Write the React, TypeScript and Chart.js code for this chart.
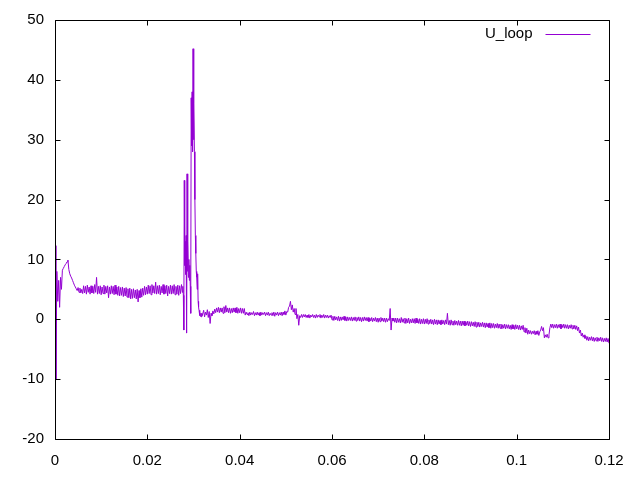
import React, { useEffect, useRef } from "react";
import { Chart, registerables } from "chart.js";

Chart.register(...registerables);

const SERIES_LABEL = "U_loop";
const X_MIN = 0;
const X_MAX = 0.12;
const X_STEP = 0.02;
const Y_MIN = -20;
const Y_MAX = 50;
const Y_STEP = 10;

// Segment 1: start-up transient (t from 0, every 0.0002 s)
const seg1Start = 0;
const seg1Step = 0.0002;
const seg1Values = [
  12.3, -10, 8, 3, 6.5, 2, 7, 5, 8.2, 8.5, 8.8, 9.1, 9.3, 9.6, 9.9, 8.3, 7.6, 7.2, 6.9, 6.5,
  6.1, 5.7, 5.4, 5.1, 4.8, 5.3, 4.5, 5.2, 4.4, 5.0,
];

// Segment 2: noisy plateau, low/high of each 0.0004 s bin (t from 0.006)
const seg2Start = 0.006;
const seg2Step = 0.0004;
const seg2Lo = [
  4.3, 4.4, 4.2, 4.5, 4.2, 4.4, 4.3, 4.5, 4.2, 4.3, 4.1, 4.3, 4.2, 4.4, 3.6, 4.2, 4.3, 4.1, 4.2, 4.0,
  3.9, 4.0, 3.8, 3.9, 3.7, 3.6, 3.4, 3.5, 3.6, 3.4, 2.9, 3.6, 3.7, 4.0, 4.1, 4.2, 4.3, 4.1, 4.4, 4.3,
  4.2, 4.3, 4.1, 4.4, 4.2, 4.3, 3.9, 4.3, 4.2, 4.3, 4.1, 4.2, 4.0, 4.3,
];
const seg2Hi = [
  5.6, 5.5, 5.7, 5.4, 5.6, 5.5, 5.8, 7.0, 5.5, 5.6, 5.4, 5.7, 5.5, 5.6, 5.4, 5.6, 5.5, 5.7, 5.4, 5.5,
  5.3, 5.4, 5.2, 5.3, 5.1, 5.2, 5.0, 5.1, 4.9, 5.0, 4.8, 5.1, 5.2, 5.5, 5.4, 5.7, 5.6, 5.8, 5.6, 6.2,
  5.6, 5.7, 5.5, 5.8, 5.6, 5.7, 5.5, 5.7, 5.6, 5.8, 5.5, 5.7, 5.6, 5.8,
];

// Segment 3: spike (t from 0.0276, every 0.0001 s)
const seg3Start = 0.0276;
const seg3Step = 0.0001;
const seg3Values = [
  4.5, 5.5, 4, -1.8, 23.2, 9, 13, 7.5, 14, -2.3, 24.3, 8, 13, 7, 10, 6.5, 9, 5.5, 1, 37,
  29, 38, 28, 45.2, 30, 36, 28, 20, 14, 11, 8, 7, 5, 7.6, 3, 2, 1.5, 0.6, 1.2, 0.5,
  1, 0.4, 1, 0.6,
];

// Segment 4: slow decay, low/high of each 0.0004 s bin (t from 0.032)
const seg4Start = 0.032;
const seg4Step = 0.0004;
const seg4Lo = [
  0.6, 0.4, 0.7, 0.3, -0.7, 0.6, 0.9,
  1.1, 1.2, 1.1, 1.2, 1.0, 1.1, 1.2, 1.1, 1.0, 1.1, 1.2, 1.1, 1.0, 1.1, 1.0, 1.0,
  0.7, 0.8, 0.6, 0.7, 0.8, 0.6, 0.7, 0.7, 0.6, 0.7, 0.8, 0.6, 0.7, 0.6, 0.7, 0.6, 0.5, 0.7, 0.6, 0.7, 0.6, 0.8, 0.7,
  1.2, 2.2, 1.6, 1.2, 0.8, 0.1, -1.0, 0.3,
  0.3, 0.4, 0.3, 0.3, 0.2, 0.4, 0.3, 0.2, 0.3, 0.4, 0.2, 0.3, 0.2, 0.3, 0.2, 0.3,
  -0.1, -0.2, -0.1, -0.2, -0.3, -0.2, -0.1, -0.2, -0.3, -0.2, -0.2, -0.3, -0.2, -0.3, -0.2, -0.3, -0.4, -0.3, -0.2, -0.3,
  -0.4, -0.3, -0.4, -0.3, -0.4, -0.5, -0.4, -0.3, -0.4, -0.5, -0.4,
  -0.2, -1.8, -0.3,
  -0.5, -0.6, -0.5, -0.6, -0.5, -0.6, -0.7, -0.6, -0.7, -0.6, -0.6, -0.7, -0.6, -0.7, -0.8, -0.7, -0.8, -0.7, -0.8, -0.7,
  -0.8, -0.9, -0.8, -0.9, -0.8, -0.9, -0.8, -0.9, -0.8, -0.9, -1.0, -0.9, -1.0, -0.9, -1.0, -1.0, -1.1,
  -1.0, -1.1, -1.0, -1.1, -1.2, -1.1, -1.2, -1.3, -1.2, -1.3, -1.2, -1.3, -1.4, -1.3, -1.4, -1.5, -1.4, -1.5, -1.4, -1.5,
  -1.5, -1.6, -1.5, -1.6, -1.5, -1.6, -1.7, -1.6, -1.7, -1.6, -1.7, -1.8, -1.7, -2.1, -2.3, -2.5,
  -2.4, -2.5, -2.4, -2.6, -2.5, -2.7, -1.8, -1.9, -3.1, -3.0, -3.1, -1.4,
  -1.4, -1.5, -1.4, -1.5, -1.4, -1.6, -1.4, -1.5, -1.5, -1.6, -1.5, -1.6, -1.6, -1.7, -1.9,
  -2.3, -2.8, -3.0, -3.2,
  -3.5, -3.6, -3.5, -3.6, -3.7, -3.6, -3.7, -3.6, -3.7, -3.8, -3.7, -3.8, -4.0,
];
const seg4Hi = [
  1.5, 1.2, 1.6, 1.3, 1.0, 1.4, 1.7,
  1.9, 2.0, 1.9, 1.9, 2.1, 2.3, 1.9, 1.9, 1.8, 1.9, 1.9, 2.0, 1.8, 1.9, 1.8, 1.8,
  1.2, 1.1, 1.2, 1.1, 1.3, 1.1, 1.2, 1.1, 1.2, 1.1, 1.2, 1.1, 1.2, 1.0, 1.1, 1.2, 1.1, 1.2, 1.1, 1.2, 1.2, 1.4, 1.3,
  2.0, 3.0, 2.4, 1.8, 1.8, 0.8, 0.6, 0.8,
  0.8, 0.8, 0.7, 0.8, 0.7, 0.8, 0.7, 0.8, 0.7, 0.8, 0.7, 0.8, 0.7, 0.7, 0.6, 0.7,
  0.5, 0.5, 0.4, 0.5, 0.4, 0.4, 0.5, 0.4, 0.4, 0.3, 0.4, 0.3, 0.4, 0.3, 0.4, 0.3, 0.3, 0.4, 0.3, 0.3,
  0.2, 0.3, 0.2, 0.3, 0.2, 0.2, 0.3, 0.2, 0.2, 0.2, 0.1,
  1.8, 0.2, 0.2,
  0.2, 0.2, 0.1, 0.3, 0.1, 0.2, 0.1, 0.2, 0.0, 0.1, 0.1, 0.2, 0.0, 0.1, 0.0, 0.1, 0.0, 0.1, -0.1, 0.0,
  -0.1, 0.0, -0.1, -0.1, -0.2, -0.1, -0.2, -0.1, 1.0, -0.2, -0.1, -0.3, -0.2, -0.3, -0.2, -0.3, -0.3,
  -0.3, -0.4, -0.3, -0.4, -0.4, -0.5, -0.4, -0.5, -0.5, -0.6, -0.5, -0.6, -0.6, -0.7, -0.6, -0.7, -0.7, -0.8, -0.7, -0.8,
  -0.8, -0.9, -0.8, -0.9, -0.9, -1.0, -0.9, -1.0, -0.9, -1.0, -1.0, -1.1, -1.0, -1.4, -1.5, -1.8,
  -1.9, -2.0, -1.9, -2.0, -1.9, -2.1, -1.2, -1.4, -2.6, -2.5, -2.6, -0.8,
  -0.8, -0.9, -0.8, -0.9, -0.8, -0.9, -0.8, -0.9, -0.9, -1.0, -0.9, -1.0, -1.0, -1.1, -1.3,
  -1.8, -2.3, -2.6, -2.8,
  -2.9, -3.0, -2.9, -3.0, -3.1, -3.0, -3.1, -3.0, -3.1, -3.2, -3.1, -3.2, -3.2,
];

const LINE_COLOR = "#9400d3";
const FONT = "'Liberation Sans', Arial, sans-serif";
const FONT_SIZE = 15;

function buildPoints() {
  const pts: { x: number; y: number }[] = [];
  seg1Values.forEach((v, i) => pts.push({ x: seg1Start + i * seg1Step, y: v }));
  seg2Lo.forEach((lo, i) => {
    const t = seg2Start + i * seg2Step;
    pts.push({ x: t, y: lo });
    pts.push({ x: t + seg2Step / 2, y: seg2Hi[i] });
  });
  seg3Values.forEach((v, i) => pts.push({ x: seg3Start + i * seg3Step, y: v }));
  seg4Lo.forEach((lo, i) => {
    const t = seg4Start + i * seg4Step;
    pts.push({ x: t, y: lo });
    pts.push({ x: t + seg4Step / 2, y: seg4Hi[i] });
  });
  return pts;
}

const framePlugin = {
  id: "gnuFrame",
  afterDraw(chart: any) {
    const { ctx, chartArea } = chart;
    const xs = chart.scales.x;
    const ys = chart.scales.y;
    const L = Math.round(chartArea.left) + 0.5;
    const R = Math.round(chartArea.right) + 0.5;
    const T = Math.round(chartArea.top) + 0.5;
    const B = Math.round(chartArea.bottom) + 0.5;
    const tl = 5;
    ctx.save();
    ctx.strokeStyle = "#000";
    ctx.lineWidth = 1;
    ctx.beginPath();
    ctx.rect(L, T, R - L, B - T);
    for (const t of xs.ticks) {
      const px = Math.round(xs.getPixelForValue(t.value)) + 0.5;
      ctx.moveTo(px, B);
      ctx.lineTo(px, B - tl);
      ctx.moveTo(px, T);
      ctx.lineTo(px, T + tl);
    }
    for (const t of ys.ticks) {
      const py = Math.round(ys.getPixelForValue(t.value)) + 0.5;
      ctx.moveTo(L, py);
      ctx.lineTo(L + tl, py);
      ctx.moveTo(R, py);
      ctx.lineTo(R - tl, py);
    }
    ctx.stroke();
    // legend (inside, top-right)
    ctx.font = `${FONT_SIZE}px ${FONT}`;
    ctx.fillStyle = "#000";
    ctx.textAlign = "right";
    ctx.textBaseline = "alphabetic";
    ctx.fillText(chart.data.datasets[0].label, R - 77, T + 17);
    ctx.strokeStyle = LINE_COLOR;
    ctx.beginPath();
    ctx.moveTo(R - 64, T + 14);
    ctx.lineTo(R - 19, T + 14);
    ctx.stroke();
    ctx.restore();
  },
};

export default function App() {
  const ref = useRef<HTMLCanvasElement | null>(null);
  useEffect(() => {
    if (!ref.current) return;
    const chart = new Chart(ref.current, {
      type: "line",
      data: {
        datasets: [
          {
            label: SERIES_LABEL,
            data: buildPoints(),
            borderColor: LINE_COLOR,
            borderWidth: 1,
            pointRadius: 0,
            tension: 0,
            fill: false,
          },
        ],
      },
      options: {
        animation: false,
        responsive: false,
        devicePixelRatio: 1,
        layout: { padding: { top: 19, right: 31, left: 0, bottom: 0 } },
        plugins: { legend: { display: false }, tooltip: { enabled: false } },
        scales: {
          x: {
            type: "linear",
            min: X_MIN,
            max: X_MAX,
            grid: { display: false, drawTicks: false },
            border: { display: false },
            ticks: {
              stepSize: X_STEP,
              color: "#000",
              font: { family: FONT, size: FONT_SIZE },
              padding: 13,
              maxRotation: 0,
              autoSkip: false,
              callback: (v: any) => String(Number(Number(v).toFixed(2))),
            },
            afterFit: (s: any) => {
              s.height = 41;
            },
          },
          y: {
            min: Y_MIN,
            max: Y_MAX,
            grid: { display: false, drawTicks: false },
            border: { display: false },
            ticks: {
              stepSize: Y_STEP,
              color: "#000",
              font: { family: FONT, size: FONT_SIZE },
              padding: 11,
              autoSkip: false,
            },
            afterFit: (s: any) => {
              s.width = 55;
            },
          },
        },
      },
      plugins: [framePlugin],
    });
    return () => chart.destroy();
  }, []);
  return (
    <div style={{ position: "absolute", left: 0, top: 0, width: 640, height: 480, background: "#fff" }}>
      <canvas ref={ref} width={640} height={480} style={{ width: 640, height: 480 }} />
    </div>
  );
}
